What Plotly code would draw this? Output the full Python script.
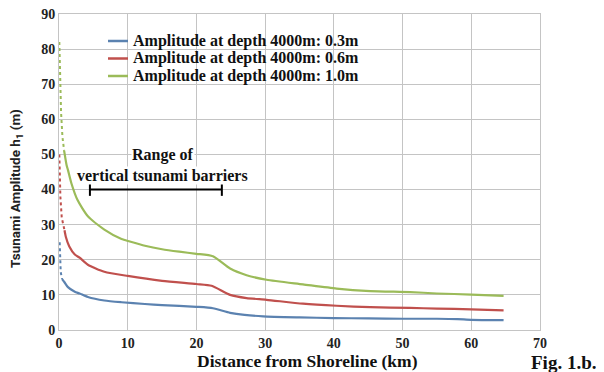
import plotly.graph_objects as go

# ---- data ----
x_ticks = [0, 10, 20, 30, 40, 50, 60, 70]
y_ticks = [0, 10, 20, 30, 40, 50, 60, 70, 80, 90]

series_names = [
    "Amplitude at depth 4000m: 0.3m",
    "Amplitude at depth 4000m: 0.6m",
    "Amplitude at depth 4000m: 1.0m",
]

# steep near-shore parts (drawn dotted in the reference)
blue_near_x = [0.1, 0.15, 0.25, 0.45]
blue_near_y = [25, 20, 16.5, 14.5]
red_near_x = [0.05, 0.1, 0.2, 0.4, 0.8]
red_near_y = [50, 44, 38, 32, 28.4]
green_near_x = [0.05, 0.15, 0.3, 0.5, 0.75]
green_near_y = [82, 72, 62, 55, 51]

# main curves
blue_x = [0.45, 0.8, 1.3, 2.3, 3.0, 4.2, 6.6, 9.1, 12.5, 15, 20, 22.4, 24.9, 27, 29.7, 35, 40, 45, 50, 55, 58, 60, 64.7]
blue_y = [14.5, 13.6, 12.2, 10.9, 10.4, 9.4, 8.4, 7.9, 7.4, 7.1, 6.6, 6.2, 4.9, 4.3, 3.9, 3.6, 3.4, 3.3, 3.2, 3.2, 3.1, 2.9, 2.8]
red_x = [0.8, 1.0, 1.5, 2.3, 3.0, 4.2, 6.6, 10, 15, 20, 22.2, 24.9, 27.3, 30.2, 35.5, 40.4, 45.3, 51.1, 55, 60, 64.7]
red_y = [28.4, 26.5, 23.8, 21.5, 20.6, 18.6, 16.6, 15.4, 14.0, 13.1, 12.6, 10.0, 9.1, 8.6, 7.5, 6.9, 6.5, 6.3, 6.1, 5.9, 5.6]
green_x = [0.75, 1.1, 1.3, 1.8, 2.7, 4.2, 6.6, 9.1, 10.3, 12.5, 15, 17.5, 20, 22.4, 24.9, 27.3, 30.2, 35.5, 40.4, 45.3, 51.1, 55, 60, 64.7]
green_y = [51, 47, 45.6, 41.8, 37, 32.4, 28.6, 25.9, 25.2, 24.0, 23.0, 22.3, 21.7, 21.0, 17.5, 15.6, 14.3, 13.0, 11.8, 11.1, 10.8, 10.4, 10.1, 9.7]

barrier_x = [4.5, 23.7]
barrier_y = [40, 40]

colors = ["#5b82b0", "#c0504d", "#9bbb59"]

serif = "Liberation Serif"

# page body has an 8px offset; the figure is sized to fit inside the window
OFF = 8
W, H = 604 - OFF, 372 - OFF
ml, mt = 59 - OFF, 14 - OFF
pw, ph = 481, 316
mr, mb = W - ml - pw, H - mt - ph


def px_to_paper(sx, sy):
    """screen pixel -> paper coordinates"""
    fx, fy = sx - OFF, sy - OFF
    return (fx - ml) / pw, 1 - (fy - mt) / ph


fig = go.Figure()

near = [(blue_near_x, blue_near_y), (red_near_x, red_near_y), (green_near_x, green_near_y)]
main = [(blue_x, blue_y), (red_x, red_y), (green_x, green_y)]

for i in range(3):
    fig.add_trace(go.Scatter(
        x=main[i][0], y=main[i][1], mode="lines", name=series_names[i],
        line=dict(color=colors[i], width=2.2, shape="spline", smoothing=0.6),
    ))
for i in range(3):
    fig.add_trace(go.Scatter(
        x=near[i][0], y=near[i][1], mode="lines",
        line=dict(color=colors[i], width=2, dash="dot"),
    ))

fig.add_trace(go.Scatter(
    x=barrier_x, y=barrier_y, mode="lines+markers",
    line=dict(color="black", width=2),
    marker=dict(symbol="line-ns", size=9, line=dict(color="black", width=2)),
))

# ---- legend box (drawn manually to match row spacing) ----
bx0, by0 = px_to_paper(97, 31)
bx1, by1 = px_to_paper(372, 86)
fig.add_shape(type="rect", xref="paper", yref="paper", x0=bx0, x1=bx1, y0=by1, y1=by0,
              fillcolor="white", line=dict(width=0), layer="below")
legend_rows = [41, 58.5, 76]
for i in range(3):
    lx0, ly = px_to_paper(108, legend_rows[i])
    lx1, _ = px_to_paper(128, legend_rows[i])
    fig.add_shape(type="line", xref="paper", yref="paper", x0=lx0, x1=lx1, y0=ly, y1=ly,
                  line=dict(color=colors[i], width=2.5))
    tx, _ = px_to_paper(131, legend_rows[i])
    fig.add_annotation(x=tx, y=ly, xref="paper", yref="paper", xanchor="left", yanchor="middle",
                       text=f"<b>{series_names[i]}</b>", showarrow=False,
                       font=dict(family=serif, size=16, color="#111"))

fig.add_annotation(x=15.1, y=49.8, xref="x", yref="y", text="<b>Range of</b>",
                   xanchor="center", yanchor="middle",
                   showarrow=False, bgcolor="white", borderpad=0,
                   font=dict(family=serif, size=16, color="#111"))
fig.add_annotation(x=15.1, y=43.9, xref="x", yref="y", text="<b>vertical tsunami barriers</b>",
                   xanchor="center", yanchor="middle",
                   showarrow=False, bgcolor="white", borderpad=0,
                   font=dict(family=serif, size=16, color="#111"))

xt, yt = px_to_paper(307, 361)
fig.add_annotation(x=xt, y=yt, xref="paper", yref="paper", xanchor="center", yanchor="middle",
                   text="<b>Distance from Shoreline (km)</b>", showarrow=False,
                   font=dict(family=serif, size=17.5, color="#111"))
xf, yf = px_to_paper(563, 363)
fig.add_annotation(x=xf, y=yf, xref="paper", yref="paper", xanchor="center", yanchor="middle",
                   text="<b>Fig. 1.b.</b>", showarrow=False,
                   font=dict(family=serif, size=19, color="#111"))
xy, yy = px_to_paper(16, 189)
fig.add_annotation(x=xy, y=yy, xref="paper", yref="paper", textangle=-90,
                   xanchor="center", yanchor="middle",
                   text="<b>Tsunami Amplitude h<sub>1</sub> (m)</b>", showarrow=False,
                   font=dict(family="Roboto", size=13.5, color="#222"))

fig.update_layout(
    width=W, height=H,
    margin=dict(l=ml, r=mr, t=mt, b=mb, autoexpand=False),
    paper_bgcolor="white", plot_bgcolor="white",
    showlegend=False,
    xaxis=dict(range=[0, 70], tickvals=x_ticks, ticktext=[f"<b>{v}</b>" for v in x_ticks],
               showgrid=True, gridcolor="#c4c4c4", gridwidth=1,
               zeroline=False, showline=True, linecolor="#c4c4c4", mirror=True,
               ticklabeloverflow="allow",
               tickfont=dict(family=serif, size=14, color="#222"), ticks=""),
    yaxis=dict(range=[0, 90], tickvals=y_ticks, ticktext=[f"<b>{v}</b>" for v in y_ticks],
               showgrid=True, gridcolor="#c4c4c4", gridwidth=1,
               zeroline=False, showline=True, linecolor="#c4c4c4", mirror=True,
               ticklabeloverflow="allow",
               tickfont=dict(family=serif, size=14, color="#222"), ticks=""),
)

fig.write_html("out.html")
